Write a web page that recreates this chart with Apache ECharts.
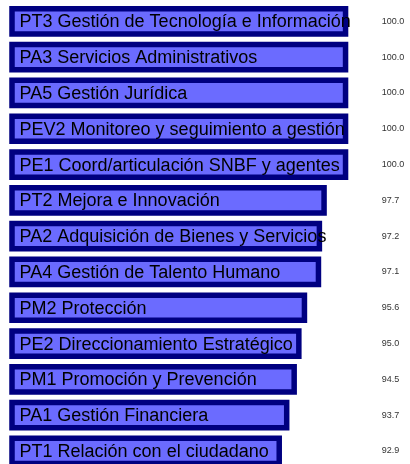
<!DOCTYPE html>
<html>
<head>
<meta charset="utf-8">
<script src="https://cdn.jsdelivr.net/npm/echarts@6/dist/echarts.min.js"></script>
<style>
  html, body { margin: 0; padding: 0; background: #fff; }
  #chart { width: 410px; height: 464px; }
</style>
</head>
<body>
<div id="chart"></div>
<script>
// procesos y cumplimiento (%)
var procesos = [
  'PT3 Gestión de Tecnología e Información',
  'PA3 Servicios Administrativos',
  'PA5 Gestión Jurídica',
  'PEV2 Monitoreo y seguimiento a gestión',
  'PE1 Coord/articulación SNBF y agentes',
  'PT2 Mejora e Innovación',
  'PA2 Adquisición de Bienes y Servicios',
  'PA4 Gestión de Talento Humano',
  'PM2 Protección',
  'PE2 Direccionamiento Estratégico',
  'PM1 Promoción y Prevención',
  'PA1 Gestión Financiera',
  'PT1 Relación con el ciudadano'
]
var valores = [100.0, 100.0, 100.0, 100.0, 100.0, 97.7, 97.2, 97.1, 95.6, 95.0, 94.5, 93.7, 92.9]

var chart = echarts.init(document.getElementById('chart'))

chart.setOption({
  animation: false,
  grid: {
    left: 12,
    right: 61.7,
    top: 3.45,
    bottom: -4.85,
    outerBoundsMode: 'none'
  },
  xAxis: {
    type: 'value',
    min: 64,
    max: 100,
    show: false
  },
  yAxis: [{
    type: 'category',
    data: procesos,
    inverse: true,
    show: false
  }, {
    type: 'category',
    data: valores.map(function(v) { return v.toFixed(1) }),
    inverse: true,
    position: 'right',
    axisLine: { show: false },
    axisTick: { show: false },
    splitLine: { show: false },
    axisLabel: {
      margin: 33.5,
      align: 'left',
      fontSize: 9,
      fontFamily: 'Liberation Sans',
      color: '#333'
    }
  }],
  series: [{
    type: 'bar',
    data: valores,
    barWidth: 30.7,
    itemStyle: {
      color: '#6b6bff',
      borderColor: '#000080',
      borderWidth: 5.5
    },
    label: {
      show: true,
      position: 'insideLeft',
      distance: 10.3,
      offset: [0, 1],
      fontSize: 18,
      fontFamily: 'Liberation Sans',
      color: '#000',
      formatter: function(p) { return p.name }
    }
  }]
})
</script>
</body>
</html>
